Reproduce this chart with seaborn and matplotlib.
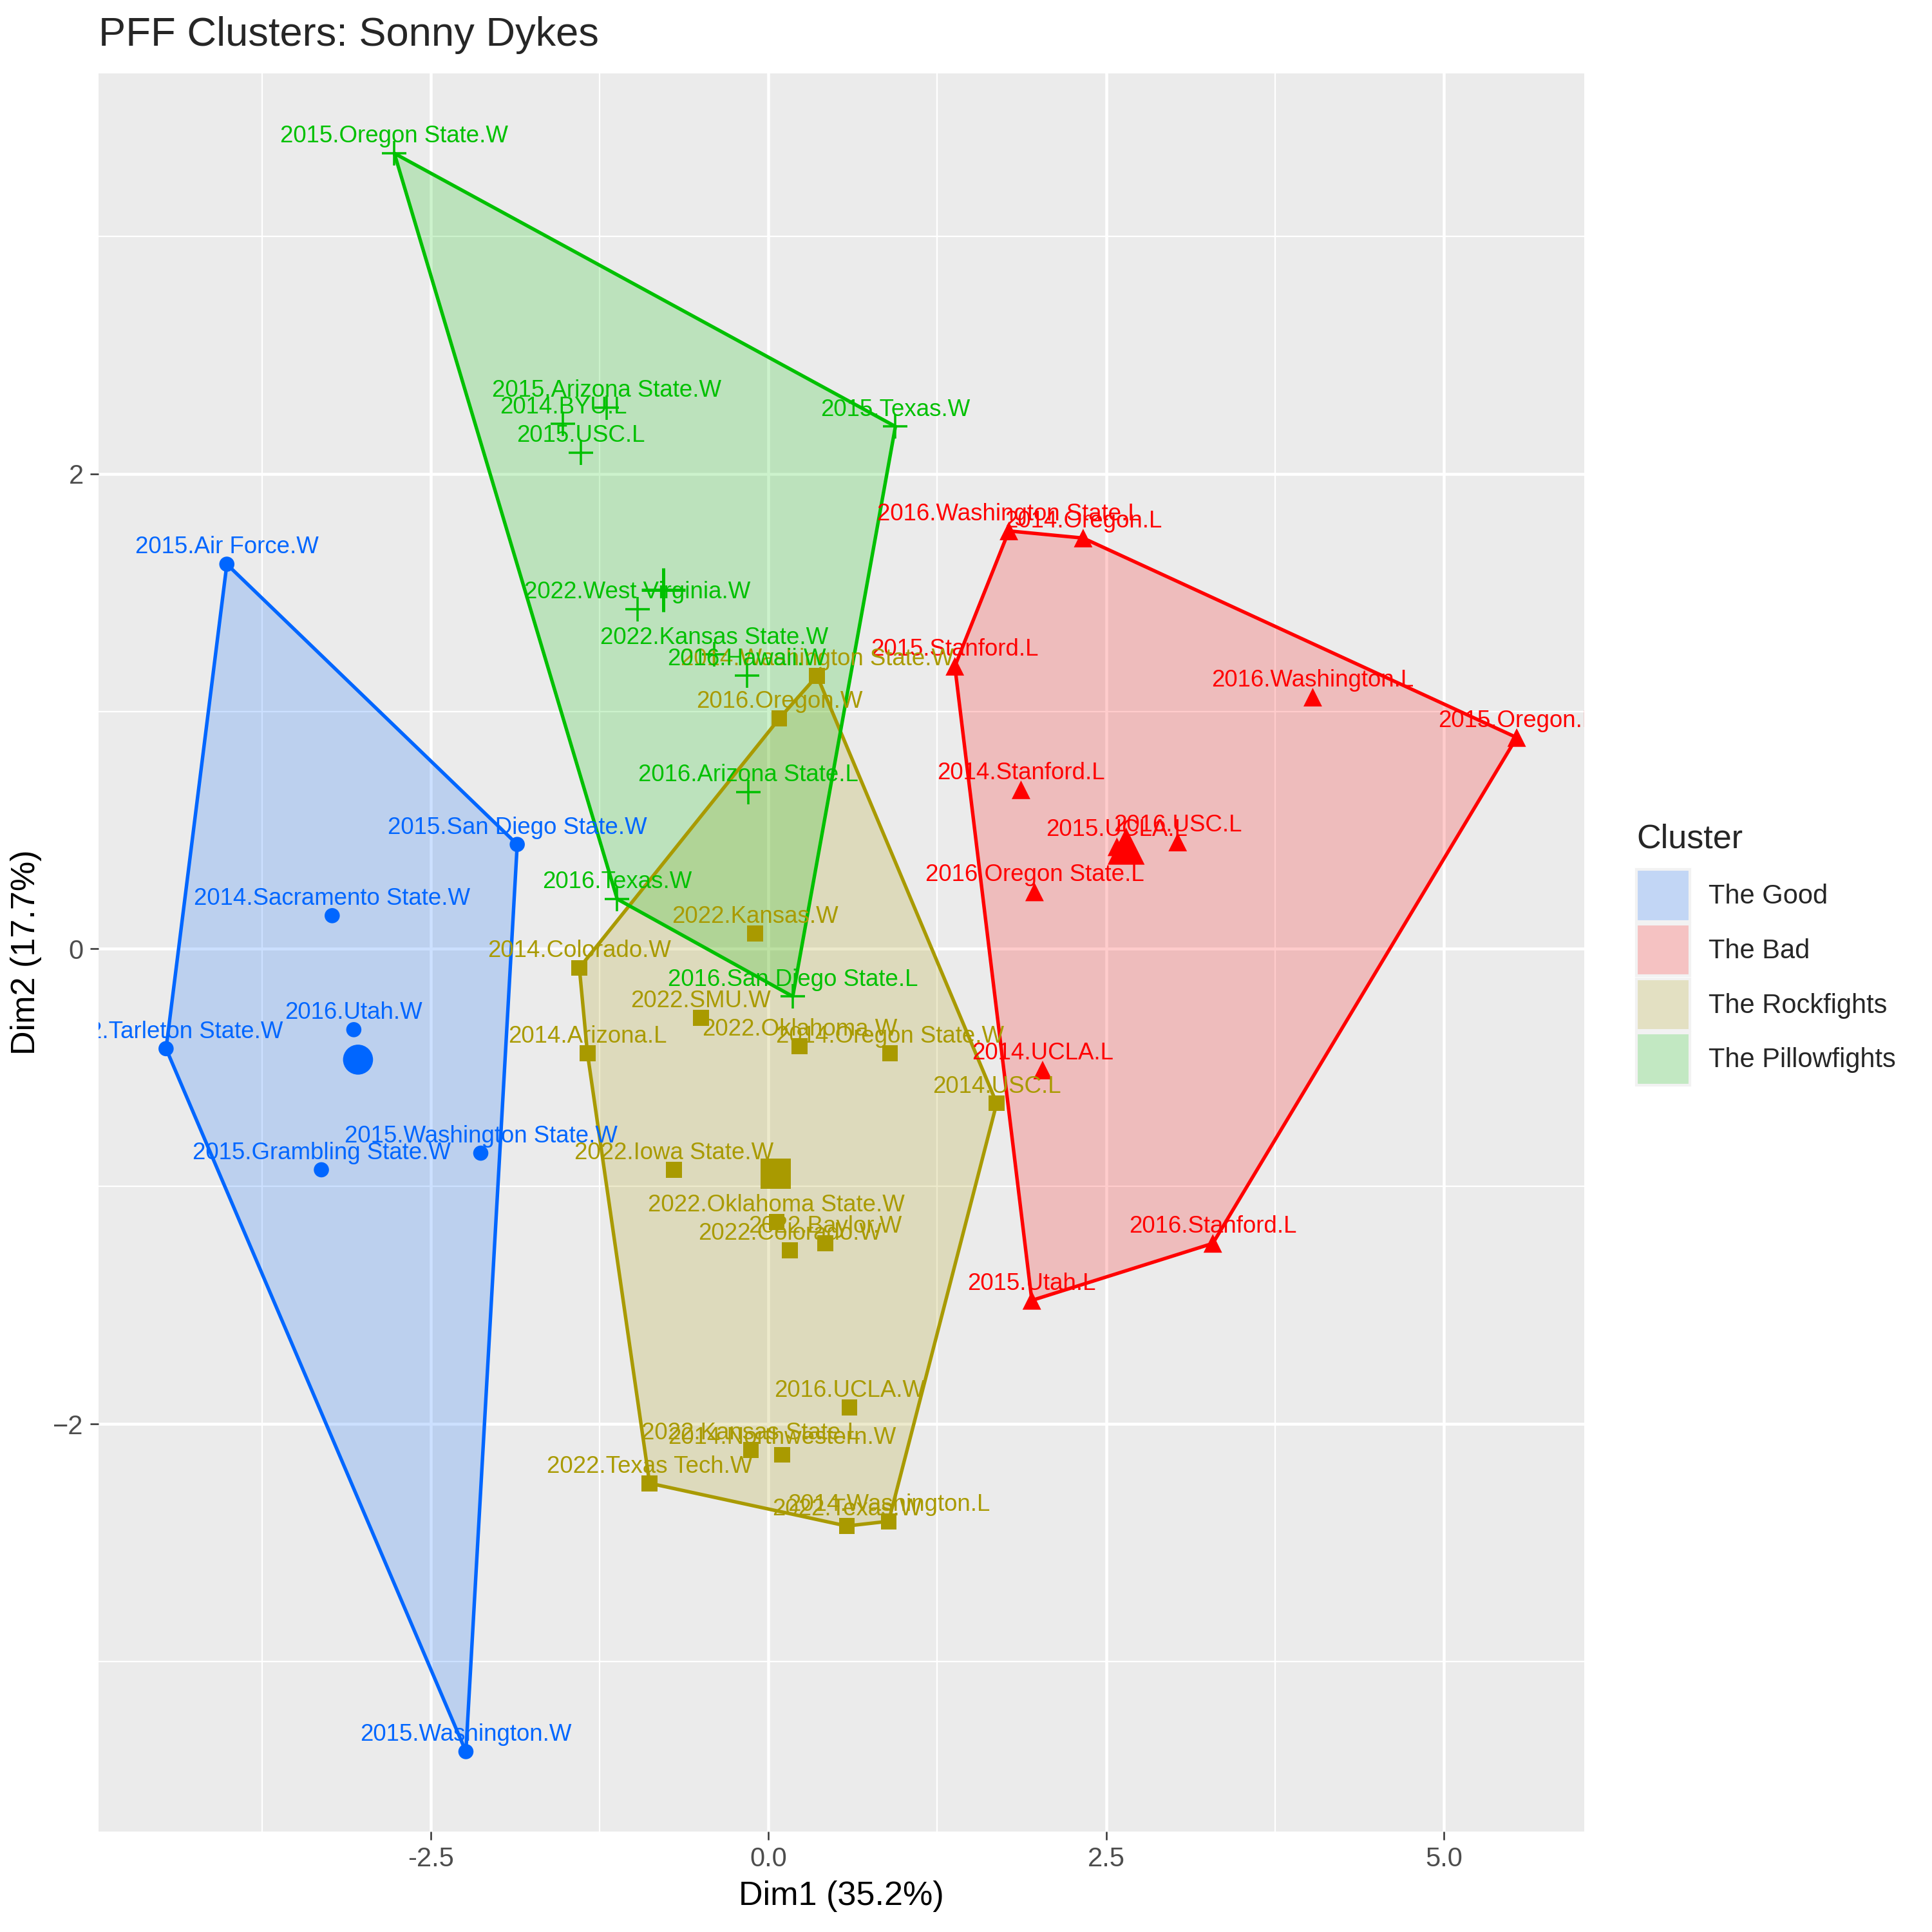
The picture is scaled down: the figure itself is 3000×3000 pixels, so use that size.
import numpy as np
import pandas as pd
import matplotlib
matplotlib.use("Agg")
import matplotlib.pyplot as plt
import seaborn as sns
from matplotlib.patches import Patch
from matplotlib.colors import to_rgb

# PCA coordinates of each game
good_games = ["2015.Air Force.W", "2015.San Diego State.W", "2014.Sacramento State.W",
              "2016.Utah.W", "2022.Tarleton State.W", "2015.Washington State.W",
              "2015.Grambling State.W", "2015.Washington.W"]
good_dim1 = [-4.01, -1.86, -3.23, -3.07, -4.46, -2.13, -3.31, -2.24]
good_dim2 = [1.62, 0.44, 0.14, -0.34, -0.42, -0.86, -0.93, -3.38]

bad_games = ["2016.Washington State.L", "2014.Oregon.L", "2015.Stanford.L", "2016.Washington.L",
             "2015.Oregon.L", "2014.Stanford.L", "2015.UCLA.L", "2016.USC.L",
             "2016.Oregon State.L", "2014.UCLA.L", "2016.Stanford.L", "2015.Utah.L"]
bad_dim1 = [1.78, 2.33, 1.38, 4.03, 5.54, 1.87, 2.58, 3.03, 1.97, 2.03, 3.29, 1.95]
bad_dim2 = [1.76, 1.73, 1.19, 1.06, 0.89, 0.67, 0.43, 0.45, 0.24, -0.51, -1.24, -1.48]

rock_games = ["2014.Washington State.W", "2016.Oregon.W", "2022.Kansas.W", "2014.Colorado.W",
              "2022.SMU.W", "2022.Oklahoma.W", "2014.Arizona.L", "2014.Oregon State.W",
              "2014.USC.L", "2022.Iowa State.W", "2022.Oklahoma State.W", "2022.Colorado.W",
              "2022.Baylor.W", "2016.UCLA.W", "2022.Kansas State.L", "2014.Northwestern.W",
              "2022.Texas Tech.W", "2022.Texas.W", "2014.Washington.L"]
rock_dim1 = [0.36, 0.08, -0.10, -1.40, -0.50, 0.23, -1.34, 0.90, 1.69, -0.70,
             0.06, 0.16, 0.42, 0.60, -0.13, 0.10, -0.88, 0.58, 0.89]
rock_dim2 = [1.15, 0.97, 0.065, -0.08, -0.29, -0.41, -0.44, -0.44, -0.65, -0.93,
             -1.15, -1.27, -1.24, -1.93, -2.11, -2.13, -2.25, -2.43, -2.41]

pillow_games = ["2015.Oregon State.W", "2015.Arizona State.W", "2014.BYU.L", "2015.USC.L",
                "2015.Texas.W", "2022.West Virginia.W", "2022.Kansas State.W", "2016.Hawaii.W",
                "2016.Arizona State.L", "2016.Texas.W", "2016.San Diego State.L"]
pillow_dim1 = [-2.77, -1.20, -1.52, -1.39, 0.94, -0.97, -0.40, -0.16, -0.15, -1.12, 0.18]
pillow_dim2 = [3.35, 2.28, 2.21, 2.09, 2.20, 1.43, 1.24, 1.15, 0.66, 0.21, -0.20]

clusters = ["The Good", "The Bad", "The Rockfights", "The Pillowfights"]
colors = ["#0066FF", "#FF0000", "#A99A00", "#00C000"]
markers = ["o", "^", "s", "+"]
point_sizes = [32, 48, 35, 85]
center_sizes = [125, 190, 125, 260]

frames = []
for name, games, d1, d2 in zip(clusters,
                               [good_games, bad_games, rock_games, pillow_games],
                               [good_dim1, bad_dim1, rock_dim1, pillow_dim1],
                               [good_dim2, bad_dim2, rock_dim2, pillow_dim2]):
    frames.append(pd.DataFrame({"game": games, "Dim1": d1, "Dim2": d2, "cluster": name}))
df = pd.concat(frames, ignore_index=True)
centers = df.groupby("cluster", sort=False)[["Dim1", "Dim2"]].mean()


def convex_hull(pts):
    # monotone chain, returns hull vertices in order
    pts = sorted(map(tuple, pts))
    def cross(o, a, b):
        return (a[0] - o[0]) * (b[1] - o[1]) - (a[1] - o[1]) * (b[0] - o[0])
    lower, upper = [], []
    for p in pts:
        while len(lower) >= 2 and cross(lower[-2], lower[-1], p) <= 0:
            lower.pop()
        lower.append(p)
    for p in reversed(pts):
        while len(upper) >= 2 and cross(upper[-2], upper[-1], p) <= 0:
            upper.pop()
        upper.append(p)
    return np.array(lower[:-1] + upper[:-1])


sns.set_theme(style="darkgrid")
plt.rcParams["font.family"] = ["Liberation Sans", "DejaVu Sans"]

fig = plt.figure(figsize=(10, 10), dpi=300)
ax = fig.add_axes([0.051, 0.052, 0.769, 0.910])
ax.set_facecolor("#EBEBEB")

# hull polygons
for name, col in zip(clusters, colors):
    sub = df[df["cluster"] == name]
    hull = convex_hull(sub[["Dim1", "Dim2"]].values)
    ax.fill(hull[:, 0], hull[:, 1], facecolor=col, alpha=0.2, edgecolor="none", zorder=2)
    closed = np.vstack([hull, hull[:1]])
    ax.plot(closed[:, 0], closed[:, 1], color=col, lw=1.3, zorder=3)

# points and centroids
for name, col, mk, ps, cs in zip(clusters, colors, markers, point_sizes, center_sizes):
    sub = df[df["cluster"] == name]
    if mk == "+":
        kw = dict(linewidth=0.85)
        ckw = dict(linewidth=1.2)
    else:
        kw = dict(edgecolor="none", linewidth=0)
        ckw = kw
    sns.scatterplot(data=sub, x="Dim1", y="Dim2", ax=ax, marker=mk, color=col,
                    s=ps, legend=False, zorder=4, **kw)
    c = centers.loc[[name]]
    sns.scatterplot(data=c, x="Dim1", y="Dim2", ax=ax, marker=mk, color=col,
                    s=cs, legend=False, zorder=4, **ckw)
    for _, r in sub.iterrows():
        ax.annotate(r["game"], (r["Dim1"], r["Dim2"]), xytext=(0, 4),
                    textcoords="offset points", ha="center", va="baseline",
                    color=col, fontsize=8.8, clip_on=True, zorder=5)

# ggplot-like expanded limits
xr = df["Dim1"].max() - df["Dim1"].min()
yr = df["Dim2"].max() - df["Dim2"].min()
ax.set_xlim(df["Dim1"].min() - 0.05 * xr, df["Dim1"].max() + 0.05 * xr)
ax.set_ylim(df["Dim2"].min() - 0.05 * yr, df["Dim2"].max() + 0.05 * yr)

ax.set_xticks([-2.5, 0.0, 2.5, 5.0])
ax.set_xticklabels(["-2.5", "0.0", "2.5", "5.0"])
ax.set_yticks([-2, 0, 2])
ax.set_xticks([-3.75, -1.25, 1.25, 3.75], minor=True)
ax.set_yticks([-3, -1, 1, 3], minor=True)
ax.grid(which="major", color="white", lw=1.1)
ax.grid(which="minor", color="white", lw=0.55)
ax.set_axisbelow(True)
for sp in ax.spines.values():
    sp.set_visible(False)
ax.tick_params(axis="both", which="major", length=3.1, width=0.6, color="#333333",
               labelcolor="#4D4D4D", labelsize=10, pad=2.5, bottom=True, left=True)
ax.tick_params(axis="both", which="minor", length=0)

ax.set_xlabel("Dim1 (35.2%)", fontsize=12.5, color="black", labelpad=3)
ax.set_ylabel("Dim2 (17.7%)", fontsize=12.5, color="black", labelpad=4)
fig.text(0.051, 0.982, "PFF Clusters: Sonny Dykes", fontsize=15.2, ha="left", va="center")

# legend keys show the polygon fill over grey95; title drawn separately for spacing
bg = np.array(to_rgb("#F2F2F2"))
handles = [Patch(facecolor=0.2 * np.array(to_rgb(c)) + 0.8 * bg, edgecolor="#F2F2F2",
                 linewidth=1.0, label=n) for n, c in zip(clusters, colors)]
fig.text(0.8472, 0.5611, "Cluster", fontsize=12.5, ha="left", va="baseline")
fig.legend(handles=handles, loc="upper left", bbox_to_anchor=(0.8469, 0.550),
           frameon=False, fontsize=10, handlelength=2.0, handleheight=2.6,
           handletextpad=0.7, labelspacing=0.1, borderpad=0, borderaxespad=0)

fig.savefig("out.png", dpi=300, facecolor="white")
